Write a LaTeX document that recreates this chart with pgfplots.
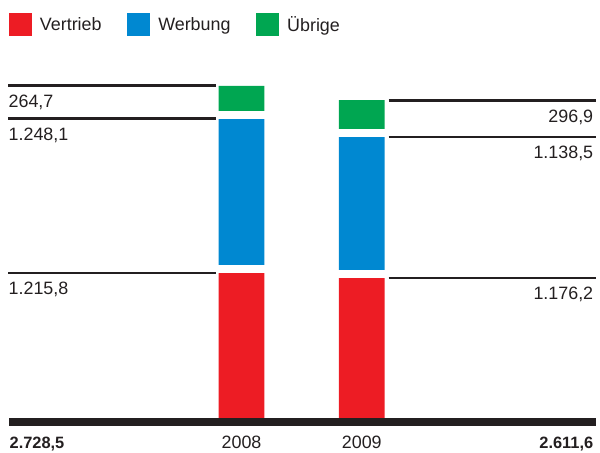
\documentclass[border=0pt]{standalone}
\usepackage{fontspec}
\setmainfont{Liberation Sans}
\usepackage{pgfplots}
\pgfplotsset{compat=1.18}
\definecolor{vertrieb}{HTML}{ED1C24}
\definecolor{werbung}{HTML}{0088D1}
\definecolor{uebrige}{HTML}{00A651}
\definecolor{ink}{HTML}{231F20}
\pgfplotsset{
  frame/.style={x=1pt, y=0.1245pt, xmin=0, xmax=600, ymin=-233, ymax=3421.7,
    hide axis, clip=false, anchor=south west, at={(0pt,0pt)}},
  rule/.style={ink, line width=2.6pt, forget plot},
  gap/.style={white, line width=8pt, forget plot},
}
\begin{document}
\begin{tikzpicture}[font=\fontsize{18}{21}\selectfont, text=ink, every node/.style={inner sep=0pt}]
% stacked bars
\begin{axis}[frame, ybar stacked, bar width=46,
  legend columns=3,
  legend style={draw=none, fill=none, at={(axis cs:9,3225)}, anchor=west, inner sep=0pt,
    nodes={inner sep=0pt, text=ink},
    /tikz/every odd column/.append style={column sep=8pt},
    /tikz/every even column/.append style={column sep=26pt}},
  legend image code/.code={\fill[#1, draw=none] (0pt,-11.5pt) rectangle (23pt,11.5pt);}]
\addplot[fill=vertrieb, draw=none] coordinates {(243,1215.8) (364,1176.2)};
\addlegendentry{Vertrieb}
\addplot[fill=werbung, draw=none] coordinates {(243,1248.1) (364,1138.5)};
\addlegendentry{Werbung}
\addplot[fill=uebrige, draw=none] coordinates {(243,264.7) (364,296.9)};
\addlegendentry{Übrige}
\end{axis}
% separators, rules, labels
\begin{axis}[frame]
\addplot[gap] coordinates {(218,1247.8) (268,1247.8)};
\addplot[gap] coordinates {(218,2495.9) (268,2495.9)};
\addplot[gap] coordinates {(339,1208.2) (389,1208.2)};
\addplot[gap] coordinates {(339,2346.7) (389,2346.7)};
% 2008, to the left
\addplot[rule] coordinates {(8.5,1215.8) (217,1215.8)};
\addplot[rule] coordinates {(8.5,2463.9) (217,2463.9)};
\addplot[rule] coordinates {(8.5,2728.5) (217,2728.5)};
% 2009, to the right
\addplot[rule] coordinates {(391,1176.2) (600,1176.2)};
\addplot[rule] coordinates {(391,2314.7) (600,2314.7)};
\addplot[rule] coordinates {(391,2611.6) (600,2611.6)};
% baseline
\addplot[ink, line width=7.3pt, forget plot] coordinates {(9.5,11) (600,11)};

\node[anchor=base west, yshift=-22pt] at (axis cs:8.5,2728.5) {264,7};
\node[anchor=base west, yshift=-22pt] at (axis cs:8.5,2463.9) {1.248,1};
\node[anchor=base west, yshift=-22pt] at (axis cs:8.5,1215.8) {1.215,8};
\node[anchor=base east, yshift=-22pt] at (axis cs:597,2611.6) {296,9};
\node[anchor=base east, yshift=-22pt] at (axis cs:597,2314.7) {1.138,5};
\node[anchor=base east, yshift=-22pt] at (axis cs:597,1176.2) {1.176,2};

\node[anchor=base west, yshift=-25pt, font=\fontsize{16.5}{20}\selectfont\bfseries] at (axis cs:9.5,0) {2.728,5};
\node[anchor=base, yshift=-25pt] at (axis cs:243,0) {2008};
\node[anchor=base, yshift=-25pt] at (axis cs:364,0) {2009};
\node[anchor=base east, yshift=-25pt, font=\fontsize{16.5}{20}\selectfont\bfseries] at (axis cs:597,0) {2.611,6};
\end{axis}
\path (0pt,0pt) rectangle (600pt,455pt);
\end{tikzpicture}
\end{document}
